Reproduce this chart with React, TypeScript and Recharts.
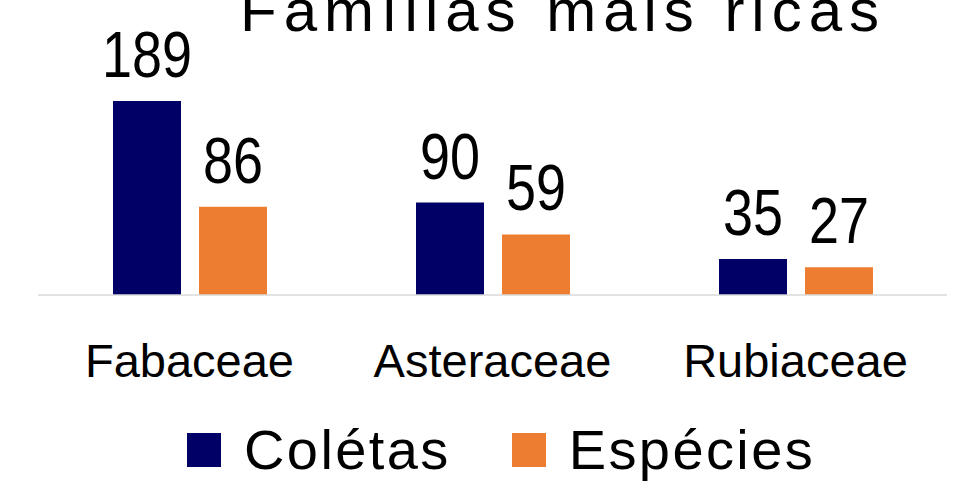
import React from "react";
import { BarChart, Bar, XAxis, YAxis, Legend, LabelList } from "recharts";

const families = ["Fabaceae", "Asteraceae", "Rubiaceae"];
const coletas = [189, 90, 35];
const especies = [86, 59, 27];

const NAVY = "#000066";
const ORANGE = "#ED7D31";
const TEXT_FONT = "'Liberation Sans', Arial, sans-serif";

const data = families.map((name, i) => ({
  name,
  coletas: coletas[i],
  especies: especies[i],
}));

function CategoryTick(props: any) {
  const { x, y, payload } = props;
  return (
    <text
      x={x}
      y={y + 82}
      textAnchor="middle"
      fontFamily={TEXT_FONT}
      fontSize={47}
      fill="#000"
    >
      {payload.value}
    </text>
  );
}

// digits in the original are narrow (DIN-like), so squeeze them a bit
function ValueLabel(props: any) {
  const { x, y, width, value } = props;
  const s = String(value);
  return (
    <text
      x={x + width / 2}
      y={y - 24}
      textAnchor="middle"
      fontFamily={TEXT_FONT}
      fontSize={64}
      textLength={s.length * 30}
      lengthAdjust="spacingAndGlyphs"
      fill="#000"
    >
      {s}
    </text>
  );
}

function LegendContent() {
  const items = [
    { label: "Colétas", color: NAVY },
    { label: "Espécies", color: ORANGE },
  ];
  return (
    <div
      style={{
        display: "flex",
        alignItems: "center",
        height: 60,
        paddingLeft: 187,
        fontFamily: TEXT_FONT,
        fontSize: 56,
        color: "#000",
      }}
    >
      {items.map((it, i) => (
        <div
          key={it.label}
          style={{ display: "flex", alignItems: "center", marginRight: i === 0 ? 61 : 0 }}
        >
          <span style={{ width: 34, height: 34, background: it.color, marginRight: 23 }} />
          <span style={{ letterSpacing: 2.4, lineHeight: "60px" }}>{it.label}</span>
        </div>
      ))}
    </div>
  );
}

export default function App() {
  return (
    <div style={{ position: "absolute", left: 0, top: 0, width: 953, height: 485, background: "#fff" }}>
      <BarChart
        width={953}
        height={485}
        data={data}
        margin={{ top: 101, right: 6, bottom: 30, left: 38 }}
        barGap={18}
        barSize={68}
      >
        <text
          x={240}
          y={31}
          fontFamily={TEXT_FONT}
          fontSize={60}
          textLength={639}
          lengthAdjust="spacing"
          fill="#000"
        >
          Famílias mais ricas
        </text>
        <XAxis
          dataKey="name"
          height={100}
          tickSize={0}
          tickMargin={0}
          tickLine={false}
          axisLine={{ stroke: "#D9D9D9", strokeWidth: 1.5 }}
          tick={<CategoryTick />}
        />
        <YAxis hide domain={[0, 189]} />
        <Legend
          content={<LegendContent />}
          wrapperStyle={{ top: 420, left: 0, width: 953, height: 60 }}
        />
        <Bar dataKey="coletas" name="Colétas" fill={NAVY} isAnimationActive={false}>
          <LabelList dataKey="coletas" content={<ValueLabel />} />
        </Bar>
        <Bar dataKey="especies" name="Espécies" fill={ORANGE} isAnimationActive={false}>
          <LabelList dataKey="especies" content={<ValueLabel />} />
        </Bar>
      </BarChart>
    </div>
  );
}
